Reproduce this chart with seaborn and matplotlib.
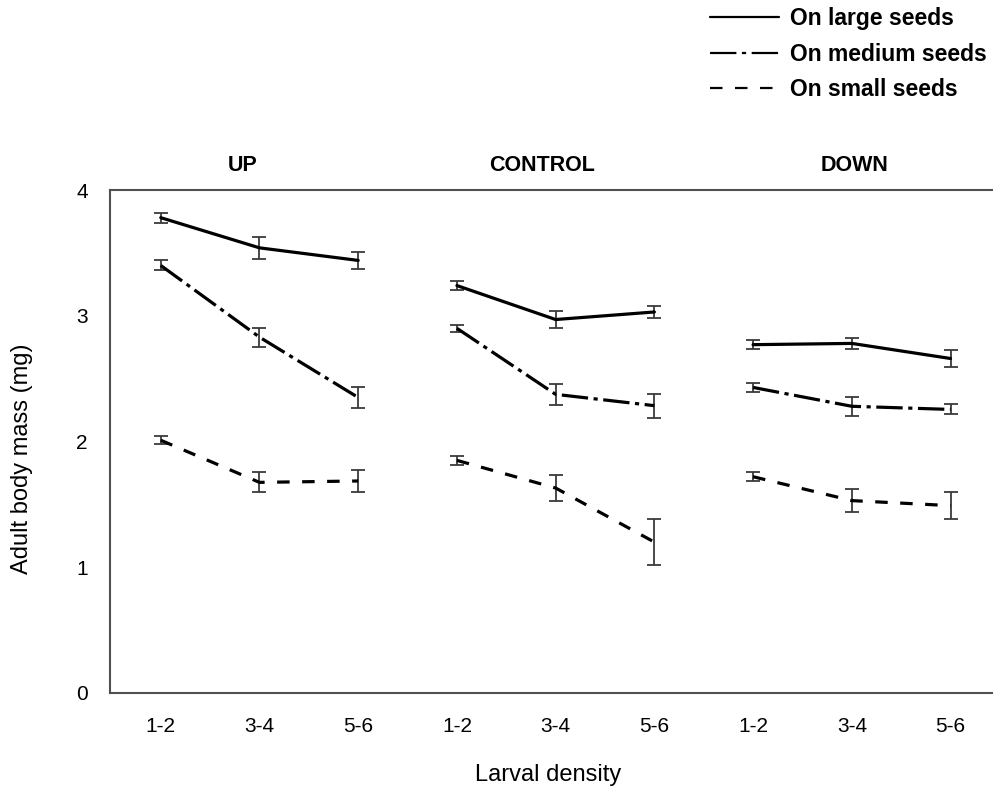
import numpy as np
import pandas as pd
import matplotlib
matplotlib.use("Agg")
import matplotlib.pyplot as plt
from matplotlib.lines import Line2D
from matplotlib import transforms
import seaborn as sns

# ---- data ----
groups = ["UP", "CONTROL", "DOWN"]
densities = ["1-2", "3-4", "5-6"]
seed_types = ["On large seeds", "On medium seeds", "On small seeds"]

large_mean = [3.78, 3.54, 3.44, 3.24, 2.97, 3.03, 2.77, 2.78, 2.66]
large_err = [0.04, 0.085, 0.07, 0.035, 0.07, 0.05, 0.035, 0.045, 0.065]
medium_mean = [3.40, 2.83, 2.35, 2.90, 2.375, 2.285, 2.43, 2.28, 2.255]
medium_err = [0.04, 0.075, 0.085, 0.03, 0.085, 0.095, 0.035, 0.075, 0.04]
small_mean = [2.01, 1.675, 1.686, 1.85, 1.63, 1.20, 1.72, 1.53, 1.49]
small_err = [0.03, 0.08, 0.09, 0.035, 0.10, 0.18, 0.035, 0.09, 0.11]

yticks = [0, 1, 2, 3, 4]

# ---- style ----
sns.set_theme(style="white")
plt.rcParams["font.family"] = ["Liberation Sans", "DejaVu Sans"]
plt.rcParams["lines.scale_dashes"] = False
plt.rcParams["text.color"] = "black"
plt.rcParams["axes.labelcolor"] = "black"
plt.rcParams["xtick.labelcolor"] = "black"
plt.rcParams["ytick.labelcolor"] = "black"

dash_styles = {
    "On large seeds": "",
    "On medium seeds": (19, 4, 3, 4),
    "On small seeds": (9, 9),
}
spine_col = "#505050"

rows = []
means = [large_mean, medium_mean, small_mean]
errs = [large_err, medium_err, small_err]
for s, seed in enumerate(seed_types):
    for g, grp in enumerate(groups):
        for d, dens in enumerate(densities):
            i = g * 3 + d
            rows.append({"seed": seed, "group": grp, "density": dens,
                         "pos": g * len(densities) + d,
                         "mass": means[s][i], "err": errs[s][i]})
df = pd.DataFrame(rows)

fig = plt.figure(figsize=(9.93, 7.90), dpi=100)
ax = fig.add_axes([110 / 993, 1 - 693 / 790, 1 - 110 / 993, (693 - 190) / 790])

# error bars first
for seed in seed_types:
    sub = df[df.seed == seed]
    ax.errorbar(sub["pos"], sub["mass"], yerr=sub["err"], fmt="none",
                ecolor="#3a3a3a", elinewidth=1.3, capsize=4.8, capthick=1.3,
                zorder=2)

sns.lineplot(data=df, x="pos", y="mass", style="seed", units="group",
             estimator=None, dashes=dash_styles, color="black",
             linewidth=2.3, ax=ax, legend=False, zorder=3,
             style_order=seed_types)

ax.set_xlim(-0.514, 8.43)
ax.set_ylim(0, 4)
ax.set_xticks(range(len(groups) * len(densities)))
ax.set_xticklabels(densities * len(groups), fontsize=15, color="black")
ax.set_yticks(yticks)
ax.set_yticklabels([str(v) for v in yticks], fontsize=15, color="black")
ax.tick_params(axis="both", direction="in", length=8.5, width=1.1,
               colors=spine_col, labelcolor="black")
ax.tick_params(axis="x", pad=17)
ax.tick_params(axis="y", pad=16)
ax.set_xlabel("")
ax.set_ylabel("")
for side in ["left", "bottom", "top"]:
    ax.spines[side].set_color(spine_col)
    ax.spines[side].set_linewidth(1.5)
ax.spines["right"].set_visible(False)

# group titles
trans = transforms.blended_transform_factory(ax.transData, ax.transAxes)
title_x = [0.83, 3.86, 7.03]
for gx, grp in zip(title_x, groups):
    ax.text(gx, 1.048, grp, transform=trans, ha="center", va="center",
            fontsize=15.5, fontweight="bold", color="black")

fig.text(22 / 993, 1 - 459 / 790, "Adult body mass (mg)", rotation=90,
         ha="center", va="center", fontsize=17, color="black")
fig.text(548 / 993, 1 - 775 / 790, "Larval density", ha="center",
         va="center", fontsize=17, color="black")

handles = []
for seed in seed_types:
    ds = dash_styles[seed]
    if ds == "":
        h = Line2D([], [], color="black", lw=1.6, linestyle="-")
    else:
        h = Line2D([], [], color="black", lw=1.6, linestyle=(0, ds))
    handles.append(h)
leg = fig.legend(handles, seed_types, loc="upper left",
                 bbox_to_anchor=(710 / 993, 1 - 7 / 790), frameon=False,
                 borderpad=0, borderaxespad=0, handlelength=3.0,
                 handletextpad=0.5, labelspacing=0.55,
                 prop={"weight": "bold", "size": 16.5})
for t in leg.get_texts():
    t.set_color("black")

fig.savefig("out.png", dpi=100, facecolor="white")
